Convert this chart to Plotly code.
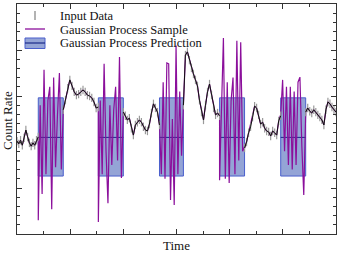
import numpy as np
import plotly.graph_objects as go

# ---- data (time in arbitrary units, count rate in arbitrary units) ----
seg_bounds = [(0.00, 0.40), (0.87, 1.53), (2.00, 2.68), (3.13, 3.81), (4.28, 4.96), (5.43, 6.00)]
gap_bounds = [(0.40, 0.87), (1.53, 2.00), (2.68, 3.13), (3.81, 4.28), (4.96, 5.43)]

seg0 = [2.02, 1.96, 2.04, 1.93, 2.09, 2.26, 2.11, 1.98, 1.91, 1.98, 1.93, 2.04, 2.11]
seg1 = [2.70, 2.91, 3.17, 3.35, 3.22, 3.09, 3.02, 3.04, 3.09, 3.13, 3.09, 3.02, 3.00, 2.96, 2.87, 2.74, 2.76]
seg2 = [2.65, 2.57, 2.48, 2.52, 2.30, 2.15, 2.37, 2.43, 2.48, 2.43, 2.33, 2.26, 2.24, 2.39, 2.63, 2.83, 2.74, 2.65, 2.37]
seg3 = [2.80, 3.89, 3.96, 3.78, 3.61, 3.48, 3.35, 3.22, 2.91, 2.65, 2.48, 2.80, 3.09, 3.26, 3.02, 2.74, 2.59, 2.63, 2.57]
seg4 = [1.87, 2.00, 2.20, 2.33, 2.54, 2.78, 2.74, 2.59, 2.39, 2.43, 2.30, 2.24, 2.22, 2.13, 2.24, 2.20, 2.15, 2.46, 2.57]
seg5 = [2.65, 2.74, 2.67, 2.63, 2.70, 2.65, 2.59, 2.54, 2.48, 2.37, 2.70, 2.87, 2.83, 2.76, 2.70, 2.65]
data_segments = [seg0, seg1, seg2, seg3, seg4, seg5]

gap1 = [0.30, 2.8, 0.87, 3.57, 1.3, 2.9, 3.2, 0.54, 3.4, 1.45, 2.6, 3.5, 1.4, 2.7]
gap2 = [0.26, 2.9, 1.3, 3.70, 1.8, 0.67, 2.8, 1.5, 2.7, 3.2, 1.6, 3.85, 1.22, 2.65]
gap3 = [2.4, 1.3, 3.3, 1.2, 3.72, 3.7, 0.74, 2.5, 0.63, 4.1, 1.3, 3.1, 1.7, 2.8]
gap4 = [1.17, 3.0, 4.26, 1.2, 3.3, 1.11, 2.9, 3.4, 1.3, 4.2, 1.6, 4.17, 1.8, 1.9]
gap5 = [2.6, 3.35, 1.8, 3.2, 1.5, 3.2, 1.4, 3.1, 1.5, 3.3, 3.41, 1.9, 0.85, 2.65]
gap_samples = [gap1, gap2, gap3, gap4, gap5]

pred_mean = 2.10
pred_low = 1.26
pred_high = 2.96

legend_labels = ["Input Data", "Gaussian Process Sample", "Gaussian Process Prediction"]

# ---- styles ----
C_DATA = "#9a9a9a"
C_LINE = "#111111"
C_SAMPLE = "#8b0f9b"
C_FILL = "rgba(60,90,180,0.55)"
C_EDGE = "#4a5fcc"
C_MEAN = "#1a2a8a"

# ---- build series ----
data_t, data_y = [], []
line_t, line_y = [], []
for (a, b), vals in zip(seg_bounds, data_segments):
    t = list(np.linspace(a, b, len(vals)))
    data_t += t
    data_y += vals
    line_t += t + [None]
    line_y += vals + [None]

samp_t, samp_y = [], []
for i, ((a, b), vals) in enumerate(zip(seg_bounds, data_segments)):
    samp_t += list(np.linspace(a, b, len(vals)))
    samp_y += list(vals)
    if i < len(gap_bounds):
        ga, gb = gap_bounds[i]
        gv = gap_samples[i]
        samp_t += list(np.linspace(ga, gb, len(gv)))
        samp_y += list(gv)

band_x, band_y, mean_x, mean_y = [], [], [], []
for ga, gb in gap_bounds:
    band_x += [ga, gb, gb, ga, ga, None]
    band_y += [pred_low, pred_low, pred_high, pred_high, pred_low, None]
    mean_x += [ga, gb, None]
    mean_y += [pred_mean, pred_mean, None]

fig = go.Figure()
fig.add_trace(go.Scatter(x=band_x, y=band_y, fill="toself", mode="lines",
                         fillcolor=C_FILL, line=dict(color=C_EDGE, width=1),
                         name=legend_labels[2], showlegend=False, hoverinfo="skip"))
fig.add_trace(go.Scatter(x=mean_x, y=mean_y, mode="lines",
                         line=dict(color=C_MEAN, width=1), showlegend=False))
fig.add_trace(go.Scatter(x=samp_t, y=samp_y, mode="lines",
                         line=dict(color=C_SAMPLE, width=1.2),
                         name=legend_labels[1], showlegend=False))
fig.add_trace(go.Scatter(x=data_t, y=data_y, mode="markers",
                         marker=dict(symbol="line-ns-open", size=6, color=C_DATA,
                                     line=dict(color=C_DATA, width=1.2)),
                         name=legend_labels[0], showlegend=False))
fig.add_trace(go.Scatter(x=line_t, y=line_y, mode="lines",
                         line=dict(color=C_LINE, width=1), showlegend=False))

axis_common = dict(showline=True, linecolor="#333333", linewidth=1, mirror="allticks",
                   ticks="inside", ticklen=5, tickcolor="#333333", showticklabels=False,
                   showgrid=False, zeroline=False, automargin=False)
fig.update_xaxes(range=[0, 6], dtick=1,
                 minor=dict(ticks="inside", dtick=0.5, ticklen=3, tickcolor="#333333"),
                 **axis_common)
fig.update_yaxes(range=[0, 5], dtick=1,
                 minor=dict(ticks="inside", dtick=0.2, ticklen=3, tickcolor="#333333"),
                 **axis_common)

W, H = 339, 267
ML, MR, MT, MB = 17, 3, 4, 33
PW, PH = W - ML - MR, H - MT - MB


def px(xp):
    return (xp - ML) / PW


def py(yp):
    return (H - MB - yp) / PH


title_font = dict(family="Liberation Serif", size=13, color="#111")
fig.add_annotation(text="Time", xref="paper", yref="paper", x=px(176), y=py(245),
                   showarrow=False, font=title_font, xanchor="center", yanchor="middle")
fig.add_annotation(text="Count Rate", xref="paper", yref="paper", x=px(8), y=py(121),
                   textangle=-90, showarrow=False, font=title_font,
                   xanchor="center", yanchor="middle")

# ---- manual legend ----
leg_font = dict(family="Liberation Serif", size=12.5, color="#111")
for label, yc in zip(legend_labels, [16, 29.5, 43]):
    fig.add_annotation(text=label, xref="paper", yref="paper", x=px(58), y=py(yc),
                       showarrow=False, font=leg_font, xanchor="left", yanchor="middle")
fig.add_shape(type="line", xref="paper", yref="paper", x0=px(35), x1=px(35),
              y0=py(11), y1=py(20), line=dict(color=C_DATA, width=1.5))
fig.add_shape(type="line", xref="paper", yref="paper", x0=px(25), x1=px(45),
              y0=py(29), y1=py(29), line=dict(color=C_SAMPLE, width=1.3))
fig.add_shape(type="rect", xref="paper", yref="paper", x0=px(25), x1=px(45),
              y0=py(38), y1=py(48.5), fillcolor=C_FILL, line=dict(color=C_EDGE, width=1))
fig.add_shape(type="line", xref="paper", yref="paper", x0=px(25), x1=px(45),
              y0=py(43), y1=py(43), line=dict(color=C_MEAN, width=1.2))

fig.update_layout(width=W, height=H,
                  margin=dict(l=ML, r=MR, t=MT, b=MB),
                  plot_bgcolor="white", paper_bgcolor="white", showlegend=False,
                  hovermode=False)
fig.write_html("out.html", config={"displayModeBar": False},
               post_script="document.body.style.margin='0px';")
